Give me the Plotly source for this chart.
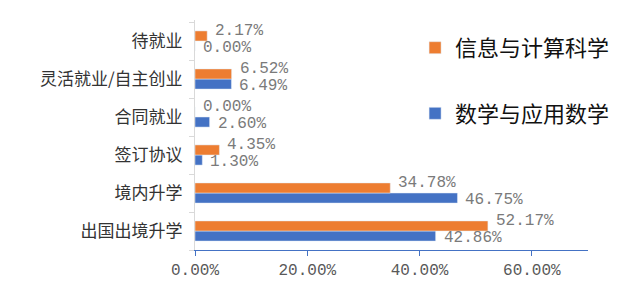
import plotly.graph_objects as go

categories = ["出国出境升学", "境内升学", "签订协议", "合同就业", "灵活就业/自主创业", "待就业"]
info_name = "信息与计算科学"
info_values = [52.17, 34.78, 4.35, 0.00, 6.52, 2.17]
math_name = "数学与应用数学"
math_values = [42.86, 46.75, 1.30, 2.60, 6.49, 0.00]
x_ticks = [0, 20, 40, 60]

ORANGE = "#ED7D31"
BLUE = "#4472C4"

fig = go.Figure()
fig.add_trace(go.Bar(y=categories, x=math_values, name=math_name, orientation="h",
                     marker_color=BLUE, legendrank=2, legendgroup="b"))
fig.add_trace(go.Bar(y=categories, x=info_values, name=info_name, orientation="h",
                     marker_color=ORANGE, legendrank=1, legendgroup="a"))

anns = []
for vals, ys in ((info_values, 10), (math_values, -7)):
    for c, v in zip(categories, vals):
        anns.append(dict(x=v, y=c, xref="x", yref="y", text=f"{v:.2f}%", showarrow=False,
                         xanchor="left", xshift=6, yshift=ys,
                         font=dict(family="Liberation Mono", size=16, color="#7a7a7a")))

fig.update_layout(
    width=640, height=295,
    margin=dict(l=195, r=52, t=20, b=45),
    paper_bgcolor="white", plot_bgcolor="white",
    barmode="group", bargap=0.47, bargroupgap=0,
    annotations=anns,
    legend=dict(x=0.56, y=0.97, xanchor="left", yanchor="top",
                font=dict(family="Noto Sans CJK SC", size=22, color="#111111"),
                tracegroupgap=34, itemwidth=30, bgcolor="rgba(0,0,0,0)"),
    xaxis=dict(range=[0, 70], tickvals=x_ticks, ticktext=[f"{t:.2f}%" for t in x_ticks],
               showgrid=False, zeroline=False, showline=True, linecolor=BLUE, linewidth=1,
               ticks="outside", ticklen=5, tickcolor=BLUE,
               tickfont=dict(family="Liberation Mono", size=16, color="#595959")),
    yaxis=dict(showgrid=False, showline=True, linecolor="#d9d9d9", ticks="outside",
               tickson="boundaries", ticklen=5, tickcolor="#d9d9d9", ticklabelstandoff=8,
               tickfont=dict(family="Noto Sans CJK SC", size=17, color="#333333")),
)

fig.write_html("out.html")
